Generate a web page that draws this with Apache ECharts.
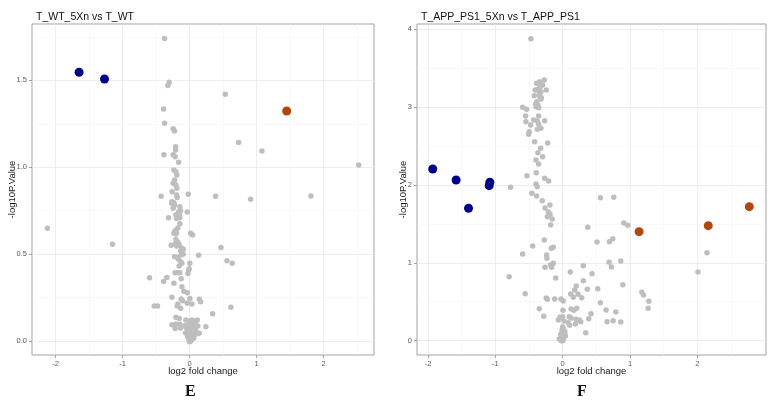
<!DOCTYPE html>
<html>
<head>
<meta charset="utf-8">
<script src="https://cdn.jsdelivr.net/npm/echarts@6/dist/echarts.min.js"></script>
<style>html,body{margin:0;padding:0;background:#fff}#c{width:773px;height:403px}</style>
</head>
<body>
<div id="c"></div>
<script>
// Panel E: T_WT_5Xn vs T_WT
const titleE = 'T_WT_5Xn vs T_WT';
const leftGray = [
[-0.373,1.741],[-0.304,1.489],[-0.324,1.470],[0.532,1.420],[-0.388,1.335],[-0.373,1.253],[-0.245,1.222],[-0.224,1.209],[0.731,1.143],[1.079,1.093],[-0.209,1.118],[-0.209,1.099],[-0.384,1.072],[-0.245,1.072],[-0.215,1.060],[-0.164,1.028],[2.522,1.013],[-0.234,0.984],[-0.204,0.974],[-0.190,0.955],[-0.224,0.926],[-0.245,0.907],[-0.204,0.897],[-0.190,0.878],[-0.260,0.859],[-0.020,0.844],[-0.424,0.832],[0.388,0.832],[0.910,0.815],[1.810,0.834],
[-0.194,0.840],[-0.185,0.826],
[-2.120,0.648],[-1.149,0.556],[0.467,0.538],[0.134,0.492],[0.557,0.461],[0.636,0.446],[-0.597,0.363],[-0.388,0.342],[-0.339,0.365],[0.343,0.156],[0.616,0.193],[-0.528,0.200],[-0.478,0.200],
[-0.264,0.801],[-0.234,0.795],[-0.264,0.792],[-0.224,0.782],[-0.145,0.772],[-0.245,0.763],[-0.164,0.744],[-0.134,0.748],[-0.035,0.742],[-0.204,0.726],[-0.155,0.724],[-0.313,0.709],[-0.194,0.705],[-0.145,0.709],[-0.145,0.674],[-0.175,0.650],[-0.215,0.634],[-0.194,0.622],[-0.234,0.619],[-0.204,0.615],[0.015,0.619],[0.045,0.609],[-0.204,0.584],[-0.185,0.571],[-0.164,0.561],[-0.275,0.550],[-0.215,0.557],[-0.194,0.546],[-0.155,0.552],[-0.115,0.533],[-0.095,0.527],[-0.134,0.519],[-0.115,0.504],[-0.125,0.496],[-0.095,0.500],[-0.224,0.484],[-0.185,0.481],[-0.164,0.469],[-0.134,0.455],[-0.115,0.446],[-0.155,0.431],[0.004,0.446],[-0.006,0.415],[-0.015,0.408],[-0.215,0.392],[-0.175,0.392],[-0.145,0.392],[-0.025,0.388],[-0.125,0.357],[-0.234,0.331],[-0.115,0.311],[-0.085,0.286],[-0.035,0.277],[-0.264,0.250],[-0.125,0.240],[-0.104,0.231],[0.004,0.244],[0.144,0.239],[0.164,0.225],[-0.175,0.212],[-0.185,0.200],[-0.035,0.216],[0.034,0.212],[-0.134,0.187],
[-0.204,0.135],[-0.155,0.129],[-0.055,0.119],[-0.006,0.114],[0.034,0.119],[0.095,0.114],[0.114,0.119],
[-0.264,0.092],[-0.204,0.096],[-0.145,0.095],[-0.215,0.071],[-0.134,0.073],[-0.065,0.090],[-0.015,0.085],[0.034,0.090],[0.124,0.085],[0.243,0.081],[0.144,0.043],
[-0.040,0.070],[-0.010,0.060],[0.020,0.065],[0.060,0.070],[0.090,0.060],[-0.060,0.045],[-0.020,0.040],[0.010,0.045],[0.050,0.040],[0.080,0.035],[-0.030,0.025],[0.000,0.020],[0.030,0.025],[0.060,0.015],[-0.010,0.005],[0.020,0.000],[0.005,0.030],[0.040,0.055],[-0.050,0.080],[0.000,0.095],[0.070,0.100],[0.000,-0.005]
];
const leftDown = [[-1.648,1.547],[-1.269,1.508]];
const leftUp = [[1.448,1.324]];

// Panel F: T_APP_PS1_5Xn vs T_APP_PS1
const titleF = 'T_APP_PS1_5Xn vs T_APP_PS1';
const rightGray = [
[-0.472,3.877],
[-0.274,3.347],[-0.342,3.325],[-0.387,3.304],[-0.298,3.282],[-0.408,3.218],[-0.357,3.209],[-0.323,3.196],[-0.244,3.218],[-0.423,3.145],[-0.338,3.132],[-0.323,3.103],[-0.387,3.068],[-0.402,3.038],[-0.368,3.022],[-0.397,3.004],[-0.595,2.996],[-0.536,2.970],
[-0.338,3.257],[-0.363,3.231],[-0.348,3.154],[-0.318,3.119],[-0.357,2.991],
[-0.551,2.885],[-0.357,2.885],[-0.432,2.833],[-0.546,2.811],[-0.378,2.820],[-0.268,2.824],[-0.476,2.769],[-0.357,2.782],[-0.323,2.727],[-0.378,2.714],[-0.497,2.683],[-0.506,2.650],[-0.417,2.555],[-0.223,2.538],[-0.327,2.470],[-0.368,2.413],[-0.298,2.362],[-0.397,2.320],[-0.357,2.268],[-0.393,2.157],[-0.531,2.118],[-0.268,2.085],[-0.208,2.050],[-0.397,2.012],[-0.378,1.977],[-0.774,1.969],[-0.457,1.892],[-0.387,1.858],[0.560,1.836],[0.759,1.841],
[-0.304,1.797],[-0.189,1.742],[-0.263,1.703],[-0.214,1.652],[-0.189,1.623],[-0.229,1.592],[-0.155,1.562],[-0.179,1.485],[0.372,1.456],[0.908,1.511],[0.967,1.481],[-0.274,1.293],[-0.446,1.216],[-0.169,1.186],[-0.140,1.199],[-0.238,1.100],[-0.234,1.058],[-0.595,1.113],[0.510,1.267],[0.694,1.271],[0.744,1.309],[2.143,1.130],[2.009,0.882],[-0.179,0.976],[-0.140,0.994],[-0.164,0.942],[-0.263,0.942],[0.113,0.882],[0.307,0.963],[0.436,0.860],[0.689,1.006],[0.723,0.946],[0.863,1.023],[-0.795,0.822],[-0.104,0.805],[0.307,0.770],[0.202,0.702],[0.179,0.651],[0.366,0.660],[0.521,0.668],[0.893,0.719],[-0.557,0.603],[0.119,0.600],[0.228,0.596],[0.158,0.557],[0.283,0.552],[1.176,0.621],[1.200,0.587],[1.280,0.506],[1.270,0.416],[-0.244,0.548],[-0.229,0.531],[-0.119,0.535],[-0.025,0.535],[0.009,0.510],[0.560,0.488],[-0.348,0.411],[0.004,0.390],[0.124,0.407],[0.168,0.390],[0.208,0.416],[0.644,0.394],[0.789,0.368],[0.421,0.347],[-0.283,0.313],[-0.040,0.300],[0.000,0.308],[-0.065,0.266],[0.019,0.253],[0.098,0.308],[0.124,0.291],[0.198,0.275],[0.247,0.266],[0.268,0.244],[0.083,0.231],[0.104,0.198],[0.188,0.214],[0.387,0.282],[0.749,0.257],[0.659,0.244],[0.863,0.240],[0.342,0.103],
[0.000,0.180],[0.010,0.150],[-0.010,0.130],[0.030,0.120],[0.000,0.100],[-0.030,0.080],[0.020,0.075],[-0.010,0.060],[0.040,0.060],[0.000,0.040],[-0.050,0.020],[0.010,0.020],[0.000,0.000],[0.030,0.090],[-0.020,0.000]
];
const rightDown = [[-1.930,2.204],[-1.583,2.063],[-1.082,2.033],[-1.092,1.990],[-1.399,1.700]];
const rightUp = [[1.135,1.399],[2.162,1.476],[2.772,1.720]];

// Tick values (major = labelled, minor = light grid only)
const xTicksE = [-2, -1, 0, 1, 2];
const xMinorE = [-1.5, -0.5, 0.5, 1.5, 2.5];
const yTicksE = [0, 0.5, 1, 1.5];
const yMinorE = [0.25, 0.75, 1.25, 1.75];
const xTicksF = [-2, -1, 0, 1, 2];
const xMinorF = [-1.5, -0.5, 0.5, 1.5, 2.5];
const yTicksF = [0, 1, 2, 3, 4];
const yMinorF = [0.5, 1.5, 2.5, 3.5];
const xName = 'log2 fold change';
const yName = '-log10P.Value';

const GRAY = '#bebebe', BLUE = '#00008b', ORANGE = '#b0470c';
const FONT = 'Liberation Sans, Arial, sans-serif';
const labelStyle = {fontSize: 7.5, color: '#5a5a5a', fontFamily: FONT};
const nameStyle = {fontSize: 9.5, color: '#1a1a1a', fontFamily: FONT};

function minorAxis(grid, min, max, values, pos) {
  return {gridIndex: grid, type: 'value', min: min, max: max, position: pos,
    axisLine: {show: false, onZero: false},
    axisTick: {show: false, customValues: values},
    axisLabel: {show: false, customValues: values},
    splitLine: {show: true, lineStyle: {color: '#f3f3f3', width: 0.6}}};
}
function majorX(grid, min, max, values, gap) {
  return {gridIndex: grid, type: 'value', min: min, max: max, position: 'bottom',
    axisLine: {show: false, onZero: false},
    axisTick: {show: true, length: 3, customValues: values, lineStyle: {color: '#8c8c8c', width: 0.8}},
    axisLabel: Object.assign({margin: 5, customValues: values, formatter: v => String(v)}, labelStyle),
    splitLine: {show: true, lineStyle: {color: '#e8e8e8', width: 0.8}},
    name: xName, nameLocation: 'middle', nameGap: gap, nameMoveOverlap: false, nameTextStyle: nameStyle};
}
function majorY(grid, min, max, values, digits, gap) {
  return {gridIndex: grid, type: 'value', min: min, max: max, position: 'left',
    axisLine: {show: false, onZero: false},
    axisTick: {show: true, length: 3, customValues: values, lineStyle: {color: '#8c8c8c', width: 0.8}},
    axisLabel: Object.assign({margin: 5, customValues: values, formatter: v => Number(v).toFixed(digits)}, labelStyle),
    splitLine: {show: true, lineStyle: {color: '#e8e8e8', width: 0.8}},
    name: yName, nameLocation: 'middle', nameGap: gap, nameMoveOverlap: false, nameRotate: 90, nameTextStyle: nameStyle};
}
function sc(data, xi, yi, color, size) {
  return {type: 'scatter', xAxisIndex: xi, yAxisIndex: yi, data: data, symbolSize: size,
    itemStyle: {color: color, opacity: 1}, silent: true};
}

const chart = echarts.init(document.getElementById('c'), null, {renderer: 'canvas'});
chart.setOption({
  animation: false,
  backgroundColor: '#fff',
  title: [
    {text: titleE, left: 31, top: 7, textStyle: {fontSize: 10.5, fontWeight: 'normal', color: '#111', fontFamily: FONT}},
    {text: titleF, left: 416, top: 7, textStyle: {fontSize: 10.5, fontWeight: 'normal', color: '#111', fontFamily: FONT}}
  ],
  grid: [
    {left: 32, top: 24, width: 342, height: 331, show: true, borderColor: '#a3a3a3', borderWidth: 1, backgroundColor: '#fff'},
    {left: 417, top: 24, width: 349, height: 331, show: true, borderColor: '#a3a3a3', borderWidth: 1, backgroundColor: '#fff'}
  ],
  xAxis: [
    minorAxis(0, -2.35, 2.75, xMinorE, 'top'),
    majorX(0, -2.35, 2.75, xTicksE, 11),
    minorAxis(1, -2.164, 3.02, xMinorF, 'top'),
    majorX(1, -2.164, 3.02, xTicksF, 11)
  ],
  yAxis: [
    minorAxis(0, -0.082, 1.825, yMinorE, 'right'),
    majorY(0, -0.082, 1.825, yTicksE, 1, 15),
    minorAxis(1, -0.184, 4.065, yMinorF, 'right'),
    majorY(1, -0.184, 4.065, yTicksF, 0, 9)
  ],
  series: [
    sc(leftGray, 1, 1, GRAY, 5.5),
    sc(leftDown, 1, 1, BLUE, 9),
    sc(leftUp, 1, 1, ORANGE, 9),
    sc(rightGray, 3, 3, GRAY, 5.5),
    sc(rightDown, 3, 3, BLUE, 9),
    sc(rightUp, 3, 3, ORANGE, 9)
  ],
  graphic: [
    {type: 'text', left: 185, top: 384, style: {text: 'E', fontSize: 16, fontWeight: 'bold', fontFamily: 'Liberation Serif, DejaVu Serif, serif', fill: '#111'}},
    {type: 'text', left: 577, top: 384, style: {text: 'F', fontSize: 16, fontWeight: 'bold', fontFamily: 'Liberation Serif, DejaVu Serif, serif', fill: '#111'}}
  ]
});
</script>
</body>
</html>
